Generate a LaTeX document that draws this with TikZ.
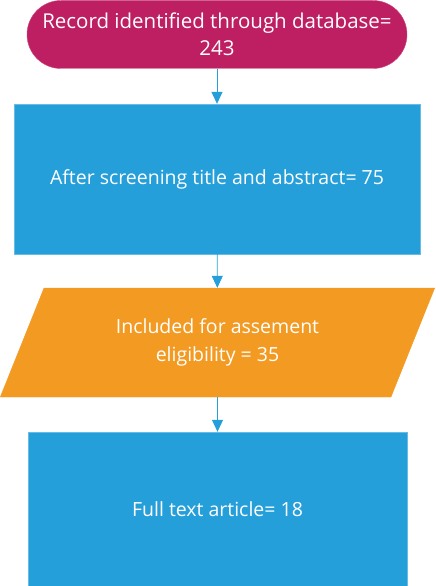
\documentclass[tikz,border=0pt]{standalone}
\usepackage{fontspec}
\setmainfont{Open Sans}
\usetikzlibrary{shapes,arrows.meta,positioning}
\definecolor{recpink}{HTML}{BE1E62}
\definecolor{stepblue}{HTML}{259FDA}
\definecolor{inclorange}{HTML}{F29A22}
\tikzset{
	terminal/.style = {draw=recpink!80!white, fill=recpink, rectangle, rounded corners=34pt, minimum height=68pt, minimum width=380pt, text=white, align=center, font=\fontsize{20.5}{27}\selectfont},
	stepbox/.style = {draw=stepblue!70!white, fill=stepblue, rectangle, text=white, align=center},
	iobox/.style = {draw=inclorange, fill=inclorange, trapezium, trapezium left angle=64, trapezium right angle=116, trapezium stretches=true, minimum height=109pt, minimum width=435pt, text=white, align=center},
	flow/.style = {stepblue, thick, -{Triangle[length=12pt,width=11pt]}}
}
\begin{document}
\begin{tikzpicture}[x=1pt,y=-1pt,font=\fontsize{19.5}{28}\selectfont]
	\useasboundingbox (0,0) rectangle (436,586);
	\node[terminal] (rec) at (217,34.5) {Record identified through database=\\243};
	\node[stepbox, minimum width=406pt, minimum height=150pt] (scr) at (217,179) {After screening title and abstract= 75};
	\node[iobox] (inc) at (217.5,342.5) {Included for assement\\eligibility = 35};
	\node[stepbox, minimum width=379pt, minimum height=154pt] (full) at (217.5,509) {Full text article= 18};
	% arrows
	\draw[flow] (rec) -- (scr);
	\draw[flow] (scr) -- (inc);
	\draw[flow] (inc) -- (full);
\end{tikzpicture}
\end{document}
